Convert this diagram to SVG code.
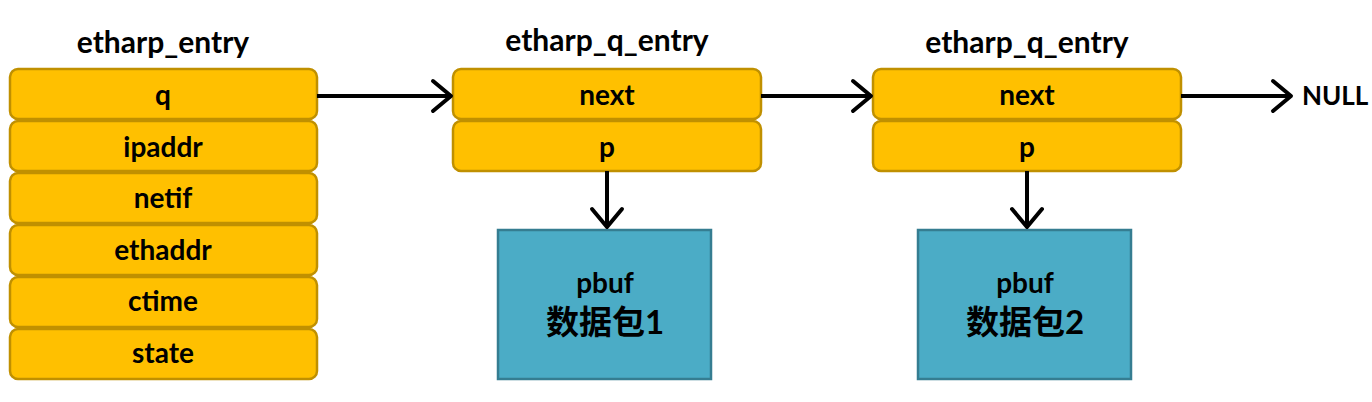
<svg xmlns="http://www.w3.org/2000/svg" width="1372" height="402" viewBox="0 0 1372 402">
<style>
.f{fill:#FFC000;stroke:#C09000;stroke-width:2.5}
.b{fill:#4BACC6;stroke:#357D91;stroke-width:2.5}
text{font-family:Lato,"Noto Sans CJK SC",sans-serif;font-weight:bold;fill:#000;text-anchor:middle}
.l{font-size:28px}
.t{font-size:30px}
.c{stroke:#000;stroke-width:4;fill:none}
</style>
<defs>
<marker id="a" markerWidth="8" markerHeight="10" refX="6.5" refY="5" orient="auto" markerUnits="userSpaceOnUse" overflow="visible">
<path d="M-18,-10 L0,5 L-18,20" transform="translate(6.5,0)" fill="none" stroke="#000" stroke-width="4" stroke-linecap="round" stroke-linejoin="round"/>
</marker>
</defs>
<g id="entry">
<text class="t" x="163" y="53">etharp_entry</text>
<rect class="f" x="10" y="69" width="307" height="50" rx="8"/><text class="l" x="163" y="105">q</text>
<rect class="f" x="10" y="121" width="307" height="50" rx="8"/><text class="l" x="163" y="157">ipaddr</text>
<rect class="f" x="10" y="173" width="307" height="50" rx="8"/><text class="l" x="163" y="208">netif</text>
<rect class="f" x="10" y="225" width="307" height="50" rx="8"/><text class="l" x="163" y="260">ethaddr</text>
<rect class="f" x="10" y="277" width="307" height="50" rx="8"/><text class="l" x="163" y="311">ctime</text>
<rect class="f" x="10" y="329" width="307" height="50" rx="8"/><text class="l" x="163" y="363">state</text>
</g>
<g id="q1">
<text class="t" x="607" y="51">etharp_q_entry</text>
<rect class="f" x="453" y="69" width="308" height="50" rx="8"/><text class="l" x="607" y="105">next</text>
<rect class="f" x="453" y="121" width="308" height="50" rx="8"/><text class="l" x="607" y="157">p</text>
</g>
<g id="q2">
<text class="t" x="1027" y="53">etharp_q_entry</text>
<rect class="f" x="873" y="69" width="308" height="50" rx="8"/><text class="l" x="1027" y="105">next</text>
<rect class="f" x="873" y="121" width="308" height="50" rx="8"/><text class="l" x="1027" y="157">p</text>
</g>
<g id="pbuf1">
<rect class="b" x="498" y="230" width="213" height="149"/>
<text class="l" x="605" y="293">pbuf</text>
<text class="l" x="605" y="334" style="font-size:33px">数据包1</text>
</g>
<g id="pbuf2">
<rect class="b" x="918" y="230" width="213" height="149"/>
<text class="l" x="1025" y="293">pbuf</text>
<text class="l" x="1025" y="334" style="font-size:33px">数据包2</text>
</g>
<g id="null">
<text class="l" x="1302" y="105" style="font-size:26px;text-anchor:start">NULL</text>
</g>
<g id="connectors">
<line class="c" x1="317" y1="96" x2="451" y2="96" marker-end="url(#a)"/>
<line class="c" x1="761" y1="96" x2="871" y2="96" marker-end="url(#a)"/>
<line class="c" x1="1181" y1="96" x2="1291" y2="96" marker-end="url(#a)"/>
<line class="c" x1="607" y1="171" x2="607" y2="227" marker-end="url(#a)"/>
<line class="c" x1="1027" y1="171" x2="1027" y2="227" marker-end="url(#a)"/>
</g>
</svg>
